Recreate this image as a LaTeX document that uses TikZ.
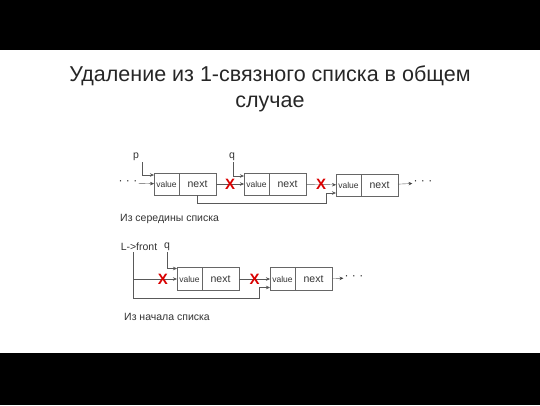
\documentclass[tikz,border=0pt]{standalone}
\usepackage{fontspec}
\setmainfont{Liberation Sans}
\usetikzlibrary{positioning, arrows.meta}

\begin{document}
\begin{tikzpicture} [x=1pt, y=-1pt,
			every node/.style = {text = black!80},
			cell/.style = {draw = black!60, minimum height = 22pt,
				inner sep = 0pt, outer sep = 0pt},
			value/.style = {cell, minimum width = 25pt,
				font = \fontsize{8.5}{8.5}\selectfont},
			next/.style = {cell, minimum width = 37pt,
				font = \fontsize{10.5}{10.5}\selectfont},
			label/.style = {font = \fontsize{10.5}{11}\selectfont, inner sep = 1pt},
			dots/.style = {font = \fontsize{12}{12}\selectfont, inner sep = 1pt},
			cross/.style = {text = red!85!black, inner sep = 0pt,
				font = \fontsize{15}{15}\selectfont\bfseries},
			link/.style = {draw = black!65, -{Stealth[length=4pt, width=3.5pt]}}
			]
			\useasboundingbox (0,0) rectangle (540,405);
			\fill [black] (0,0) rectangle (540,50);
			\fill [black] (0,353) rectangle (540,405);
			% Title
			\node (title) [align = center, text = black!85,
				font = \fontsize{21.5}{26}\selectfont] at (270,89)
				{Удаление из 1-связного списка в общем\\случае};
			% From the middle
			\node (v1) [value, anchor = west] at (154,184) {value};
			\node (n1) [next, right = 0pt of v1] {next};
			\node (v2) [value, anchor = west] at (244,184) {value};
			\node (n2) [next, right = 0pt of v2] {next};
			\node (v3) [value, anchor = west] at (336,185) {value};
			\node (n3) [next, right = 0pt of v3] {next};
			\node (d1) [dots] at (128,183) {· · ·};
			\node (d3) [dots] at (423,183) {· · ·};
			\node (p) [label] at (136,157) {p};
			\node (q) [label] at (232,157) {q};
			\node (mid) [label, anchor = west] at (119,219) {Из середины списка};
			\coordinate (b1) at (326,203);
			\path [link]
			(d1) edge (v1)
			(n1) edge node [cross] {X} (v2)
			(n2) edge node [cross] {X} (v3)
			(n3) edge (d3);
			\draw [link] ([xshift=6pt]p.south) |- ([yshift=-2pt]v1.north west);
			\draw [link] ([xshift=1pt]q.south) |- ([yshift=-3pt]v2.north west);
			\draw [link] (n1.south) |- (b1) |- ([yshift=3pt]v3.south west);
			% From the front
			\node (v4) [value, minimum height = 23pt, anchor = west] at (177,279) {value};
			\node (n4) [next, minimum height = 23pt, right = 0pt of v4] {next};
			\node (v5) [value, minimum height = 23pt, anchor = west] at (270,279) {value};
			\node (n5) [next, minimum height = 23pt, right = 0pt of v5] {next};
			\node (d5) [dots] at (354,278) {· · ·};
			\node (lf) [label] at (139,247) {L->front};
			\node (q2) [label] at (167,247) {q};
			\node (front) [label, anchor = west] at (123,317) {Из начала списка};
			\coordinate (b2) at (259,298);
			\path [link]
			(n4) edge node [cross] {X} (v5)
			(n5) edge (d5);
			\draw [link] ([xshift=-6pt]lf.south) |- (v4) node [cross, pos = 0.84] {X};
			\draw [link] ([xshift=-6pt]lf.south) |- (b2) |- ([yshift=3pt]v5.south west);
			\draw [link] (q2.south) |- ([yshift=-1pt]v4.north west);
		\end{tikzpicture}
\end{document}
